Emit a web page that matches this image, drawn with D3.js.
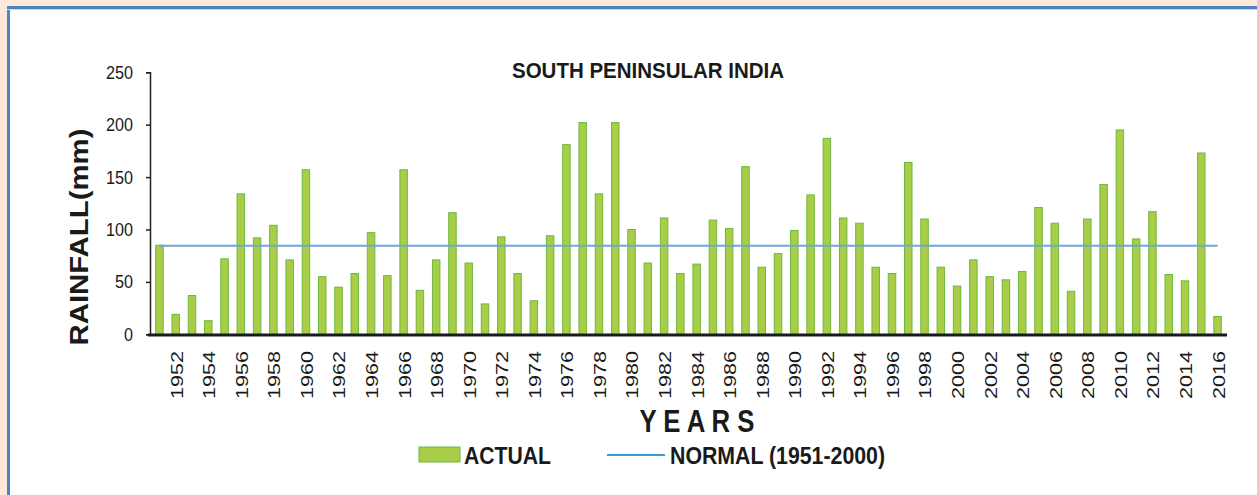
<!DOCTYPE html>
<html><head><meta charset="utf-8">
<script src="https://cdn.jsdelivr.net/npm/d3@7"></script>
<style>html,body{margin:0;padding:0;background:#fff;}svg{display:block;}</style>
</head><body>
<svg id="c" width="1257" height="495"></svg>
<script>
const years = d3.range(1951, 2017);
const actual = [85,19,37,13,72,134,92,104,71,157,55,45,58,97,56,157,42,71,116,68,29,93,58,32,94,181,202,134,202,100,68,111,58,67,109,101,160,64,77,99,133,187,111,106,64,58,164,110,64,46,71,55,52,60,121,106,41,110,143,195,91,117,57,51,173,17];
const normalValue = 84.5;
const yTicks = [0,50,100,150,200,250];
const xTickLabels = years.filter(y => y % 2 === 0);
const title = "SOUTH PENINSULAR INDIA";
const yTitle = "RAINFALL(mm)";
const xTitle = "Y E A R S";
const legendLabels = ["ACTUAL", "NORMAL (1951-2000)"];

const svg = d3.select("#c");
const FONT = "'Liberation Sans', Arial, sans-serif";

// frame
svg.append("rect").attr("x",0).attr("y",0).attr("width",1257).attr("height",495).attr("fill","#fde9da");
svg.append("rect").attr("x",10).attr("y",9).attr("width",1247).attr("height",486).attr("fill","#fff");
svg.append("rect").attr("x",7).attr("y",6).attr("width",1250).attr("height",3).attr("fill","#4f81bd");
svg.append("rect").attr("x",7).attr("y",6).attr("width",3).attr("height",489).attr("fill","#4f81bd");
svg.append("rect").attr("x",7).attr("y",9).attr("width",1250).attr("height",1).attr("fill","#c7d6ea");

const x = d3.scaleBand().domain(years).range([150,1227]).paddingInner(0.54).paddingOuter(0.35);
const y = d3.scaleLinear().domain([0,250]).range([334.3,72.3]);

function txt(g, str, o) {
  const t = g.append("text").text(str)
    .attr("font-family", FONT)
    .attr("font-size", o.size)
    .attr("font-weight", o.weight || "normal")
    .attr("fill", o.fill || "#1a1a1a")
    .attr("text-anchor", o.anchor || "start");
  if (o.len) t.attr("textLength", o.len).attr("lengthAdjust","spacingAndGlyphs");
  if (o.dy) t.attr("dy", o.dy);
  t.attr("transform", `translate(${o.x},${o.y})` + (o.rot ? ` rotate(${o.rot})` : ""));
  return t;
}

// bars
svg.append("g").selectAll("rect").data(years).join("rect")
  .attr("x", d => x(d))
  .attr("y", (d,i) => y(actual[i]))
  .attr("width", x.bandwidth())
  .attr("height", (d,i) => y(0) - y(actual[i]))
  .attr("fill", "#a9cd47")
  .attr("stroke", "#6cb940")
  .attr("stroke-width", 1);

// normal line
svg.append("line")
  .attr("x1", x(years[0]) + x.bandwidth()/2)
  .attr("x2", x(years[years.length-1]) + x.bandwidth()/2)
  .attr("y1", y(normalValue)).attr("y2", y(normalValue))
  .attr("stroke", "#6fa6d8").attr("stroke-width", 2);

// y axis
const ya = svg.append("g").attr("transform","translate(150,0)")
  .call(d3.axisLeft(y).tickValues(yTicks).tickSize(4).tickFormat(""));
ya.select(".domain").attr("stroke","#222").attr("stroke-width",1.5);
ya.selectAll(".tick line").attr("stroke","#222").attr("stroke-width",1.5);
const yl = svg.append("g");
yTicks.forEach(v => {
  const s = String(v);
  txt(yl, s, {x:133, y:y(v), size:18.5, anchor:"end", dy:"0.35em", len: 9*s.length});
});

// x axis
const xa = svg.append("g").attr("transform","translate(0,335)")
  .call(d3.axisBottom(x).tickValues([]).tickSizeOuter(0));
xa.select(".domain").attr("stroke","#1a1a1a").attr("stroke-width",3).attr("d","M148,0H1227");
const xl = svg.append("g");
xTickLabels.forEach(v => {
  txt(xl, String(v), {x: x(v) + x.bandwidth()/2 + 1, y: 351, size:17, anchor:"end", rot:-90, dy:"0.35em", len:48});
});

// titles
txt(svg, title, {x:648, y:78, size:21.5, weight:"bold", anchor:"middle", len:272});
txt(svg, yTitle, {x:88, y:237, size:25, weight:"bold", anchor:"middle", rot:-90, len:217});
txt(svg, xTitle, {x:697, y:432, size:32, weight:"bold", anchor:"middle", len:115});

// legend
svg.append("rect").attr("x",419).attr("y",447).attr("width",41).attr("height",15)
  .attr("fill","#a9cd47").attr("stroke","#6cb940").attr("stroke-width",1);
txt(svg, legendLabels[0], {x:464, y:464, size:24, weight:"bold", len:87});
svg.append("line").attr("x1",607).attr("x2",665).attr("y1",455).attr("y2",455)
  .attr("stroke","#3d97d6").attr("stroke-width",2);
txt(svg, legendLabels[1], {x:670, y:464, size:24, weight:"bold", len:215});
</script>
</body></html>
